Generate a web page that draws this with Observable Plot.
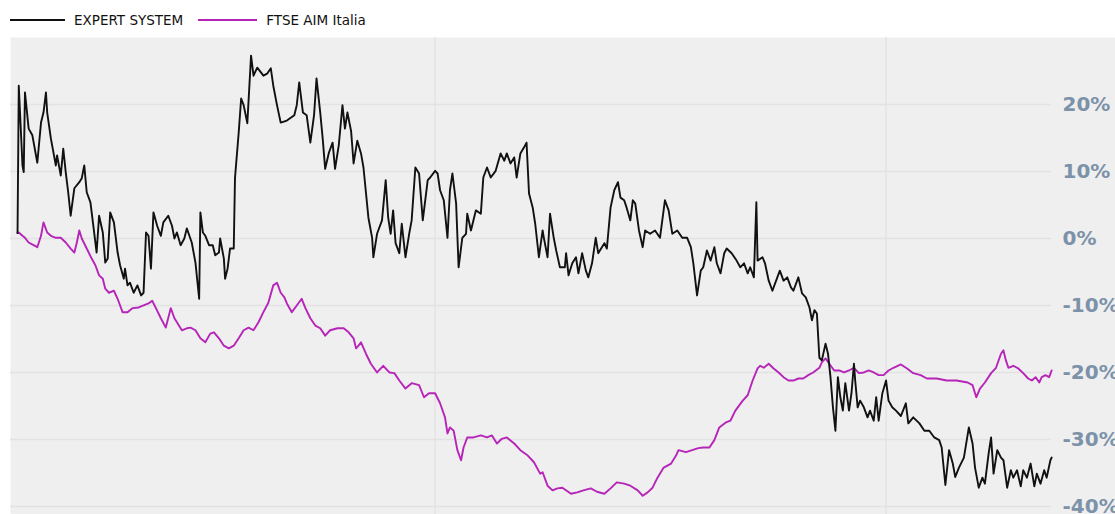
<!DOCTYPE html>
<html>
<head>
<meta charset="utf-8">
<script src="https://cdn.jsdelivr.net/npm/d3@7"></script>
<script src="https://cdn.jsdelivr.net/npm/@observablehq/plot@0.6"></script>
<style>
  html, body { margin: 0; padding: 0; background: #ffffff; }
  #wrap { width: 1115px; overflow: hidden; }
  #legend { height: 37px; display: flex; align-items: center; font-family: "DejaVu Sans", Verdana, sans-serif; font-size: 13.5px; color: #111; box-sizing: border-box; padding-top: 3px; }
  .sw { display: inline-block; height: 0; border-top: 2px solid #000; }
  #chart svg { display: block; }
</style>
</head>
<body>
<div id="wrap">
  <div id="legend"></div>
  <div id="chart"></div>
</div>
<script>
// ---- data (day offset from start date, % change) ----
const startDate = "2017-01-28";
const gridDates = ["2018-01-01", "2019-01-01"];
const seriesNames = ["EXPERT SYSTEM", "FTSE AIM Italia"];
const seriesColors = ["#111111", "#b624b8"];
const yTicks = [20, 10, 0, -10, -20, -30, -40];
const yTickLabels = ["20%", "10%", "0%", "-10%", "-20%", "-30%", "-40%"];

const expertSystem = [
[0,0.8],[1,22.8],[4,10.9],[5,9.9],[6,21.8],[9,16.4],[12,15.4],[16,11.3],[19,17.3],[21,18.8],
[23,21.8],[24,18.8],[27,14.9],[31,10.9],[32,12.4],[35,9.4],[37,13.4],[39,9.9],[41,6.9],[43,3.4],
[46,7.5],[50,8.4],[52,9.0],[54,10.9],[56,6.9],[59,5.4],[62,0.9],[64,-2.1],[66,3.4],[69,0.9],
[71,-3.6],[73,-3.0],[75,3.9],[78,2.4],[81,-2.1],[83,-4.0],[86,-6.0],[87,-4.5],[89,-7.0],[91,-6.6],
[94,-8.1],[97,-7.0],[100,-8.5],[102,-8.1],[104,0.9],[106,0.4],[108,-4.5],[110,3.9],[113,1.9],[116,0.4],
[118,2.4],[122,3.4],[125,1.9],[127,0],[129,0.9],[132,-1.0],[135,0],[137,1.5],[141,-0.6],[144,-3.6],
[147,-9.0],[148,3.9],[150,0.9],[152,0.4],[155,-1.0],[158,-1.0],[160,-2.5],[163,-2.1],[164,0],[167,-3.0],
[168,-6.0],[170,-4.5],[172,-1.5],[175,-1.5],[176,9.0],[179,15.8],[181,20.9],[183,19.9],[186,17.2],[189,27.3],
[191,24.3],[194,25.5],[197,24.8],[199,24.3],[202,24.6],[205,25.4],[207,22.8],[210,19.9],[213,17.3],[218,17.6],
[224,18.4],[226,19.9],[228,23.3],[231,18.8],[234,18.4],[237,14.3],[240,18.4],[242,23.9],[245,18.8],[247,14.9],
[249,10.4],[252,12.8],[255,14.3],[257,10.4],[260,13.9],[263,19.9],[265,16.4],[267,18.8],[270,16.0],[272,11.2],
[275,14.6],[278,12.7],[280,10.6],[284,3.1],[287,0.1],[288,-2.8],[291,0.7],[295,2.7],[298,8.7],[300,3.1],
[302,0.7],[304,4.2],[306,-0.7],[309,-2.2],[311,2.2],[314,-2.8],[317,0.7],[319,2.7],[322,10.6],[325,9.7],
[328,2.7],[332,8.7],[334,9.1],[338,10.1],[340,9.7],[342,7.2],[345,5.7],[348,0.1],[350,7.2],[352,9.7],
[355,5.2],[357,-4.3],[360,0.1],[363,0.7],[364,3.7],[367,1.2],[371,4.2],[375,3.7],[377,9.1],[380,10.6],
[383,9.1],[387,10.1],[391,12.7],[394,11.6],[396,12.7],[399,11.2],[402,12.1],[404,9.1],[407,12.7],[410,13.6],
[412,14.3],[414,6.7],[417,4.6],[419,2.2],[422,-2.8],[425,1.2],[426,0.1],[429,-2.8],[431,3.7],[434,0.1],
[436,-1.8],[439,-4.3],[443,-4.3],[444,-2.2],[446,-5.5],[449,-3.7],[452,-2.8],[454,-5.2],[457,-2.2],[460,-4.8],
[462,-5.8],[465,-3.7],[468,0.1],[470,-2.2],[475,-0.7],[477,-1.5],[480,4.6],[483,7.2],[486,8.4],[488,6.1],
[491,5.7],[493,4.6],[496,2.7],[498,5.7],[500,5.2],[503,1.2],[506,-1.3],[508,1.2],[512,0.7],[516,1.2],
[520,0.1],[524,5.7],[527,4.2],[530,0.7],[534,1.2],[538,0.1],[542,0.1],[545,-1.3],[547,-3.7],[550,-8.5],
[553,-4.8],[555,-4.3],[558,-1.8],[561,-3.3],[564,-1.3],[566,-3.7],[569,-5.2],[572,-2.2],[574,-1.5],[578,-2.2],
[582,-3.3],[585,-4.3],[588,-3.7],[591,-5.2],[593,-4.3],[596,-5.8],[598,5.4],[599,-3.3],[603,-2.8],[605,-3.7],
[608,-6.3],[611,-7.8],[614,-6.3],[617,-4.8],[620,-6.3],[623,-5.8],[626,-7.3],[628,-7.8],[632,-5.8],[635,-8.2],
[638,-8.8],[641,-10.3],[643,-12.2],[645,-10.7],[647,-11.2],[649,-17.8],[651,-18.2],[654,-15.7],[656,-17.2],[658,-20.7],
[660,-25.2],[662,-28.7],[664,-20.7],[666,-23.7],[668,-25.7],[670,-21.6],[673,-25.7],[675,-23.1],[677,-18.7],[678,-21.2],
[680,-25.2],[682,-24.2],[685,-25.2],[688,-26.7],[690,-25.7],[693,-27.2],[695,-23.7],[697,-27.2],[700,-23.1],[703,-21.2],
[705,-24.2],[708,-25.2],[711,-25.7],[715,-26.5],[719,-24.6],[721,-27.6],[725,-26.7],[730,-27.6],[734,-28.7],[738,-28.7],
[742,-29.7],[746,-30.1],[748,-31.2],[751,-36.8],[754,-31.6],[757,-33.6],[759,-35.6],[762,-34.2],[766,-32.7],[770,-28.2],
[773,-30.6],[775,-34.2],[778,-37.2],[781,-35.7],[783,-36.6],[786,-32.1],[788,-29.7],[790,-35.1],[793,-31.6],[796,-32.7],
[798,-33.1],[801,-37.2],[804,-34.6],[806,-35.7],[809,-34.6],[812,-37.0],[814,-34.6],[817,-35.7],[820,-33.6],[823,-37.0],
[825,-35.1],[828,-36.6],[831,-34.6],[833,-35.7],[836,-33.1],[837,-32.7]
];

const ftseAimItalia = [
[0,0.8],[1,0.9],[4,0.4],[6,0.1],[9,-0.6],[13,-1.0],[16,-1.3],[19,0.4],[21,2.4],[24,0.9],
[27,0.4],[31,0.1],[35,0.1],[39,-0.6],[43,-1.5],[46,-2.1],[48,-0.6],[50,1.2],[52,0],[56,-1.5],
[60,-3.0],[63,-4.0],[66,-5.5],[69,-6.0],[71,-7.5],[74,-8.1],[78,-7.8],[81,-9.0],[85,-11.0],[89,-11.0],
[93,-10.4],[98,-10.3],[102,-10.0],[106,-9.7],[109,-9.3],[112,-10.4],[116,-11.9],[120,-13.3],[124,-10.4],[127,-11.9],
[129,-12.5],[133,-13.7],[137,-13.4],[140,-13.3],[144,-13.7],[148,-14.9],[152,-15.5],[156,-14.2],[159,-14.0],[163,-14.9],
[167,-16.0],[171,-16.4],[175,-16.0],[179,-14.9],[183,-13.7],[187,-13.3],[191,-13.7],[195,-12.5],[199,-11.0],[203,-9.6],
[207,-7.0],[210,-6.6],[213,-8.1],[216,-8.8],[218,-9.7],[222,-11.0],[226,-10.0],[230,-9.0],[233,-10.4],[237,-11.9],
[241,-13.0],[245,-13.4],[249,-14.5],[253,-13.7],[259,-13.4],[264,-13.4],[268,-14.0],[272,-14.9],[274,-16.4],[276,-16.0],
[278,-15.5],[282,-17.2],[286,-18.7],[291,-20.0],[296,-19.0],[301,-20.0],[305,-20.1],[309,-21.2],[314,-22.4],[319,-21.6],
[325,-21.9],[329,-23.7],[333,-23.1],[338,-23.1],[342,-24.6],[346,-26.7],[348,-29.1],[350,-28.2],[353,-28.7],[356,-31.6],
[359,-33.1],[361,-31.2],[364,-29.7],[369,-29.7],[375,-29.4],[380,-29.7],[384,-29.4],[388,-30.6],[392,-29.9],[396,-29.7],
[402,-30.6],[407,-31.6],[413,-32.4],[418,-33.4],[423,-35.1],[425,-34.9],[429,-36.9],[433,-37.6],[437,-37.3],[441,-37.2],
[448,-38.1],[453,-37.9],[458,-37.6],[464,-37.3],[469,-37.8],[475,-38.1],[480,-37.3],[485,-36.4],[491,-36.6],[496,-36.9],
[502,-37.6],[506,-38.4],[510,-37.9],[514,-37.2],[518,-35.7],[523,-34.2],[529,-33.6],[533,-32.4],[535,-31.6],[541,-31.9],
[546,-31.6],[551,-31.3],[555,-31.2],[560,-31.2],[564,-30.1],[568,-28.2],[573,-27.5],[577,-27.2],[581,-25.7],[587,-24.2],
[591,-23.4],[595,-21.2],[599,-19.4],[601,-19.0],[604,-19.3],[608,-18.7],[612,-19.4],[616,-20.0],[620,-20.7],[624,-21.2],
[628,-21.2],[632,-20.9],[636,-20.9],[640,-20.4],[644,-20.0],[649,-19.3],[651,-18.5],[654,-17.9],[657,-18.7],[661,-19.7],
[665,-19.7],[669,-20.0],[673,-19.7],[677,-19.3],[681,-20.1],[685,-20.0],[689,-19.7],[693,-20.0],[697,-20.4],[701,-20.4],
[705,-19.7],[709,-19.3],[715,-18.8],[720,-19.4],[725,-20.1],[731,-20.4],[736,-20.9],[744,-20.9],[752,-21.2],[760,-21.2],
[769,-21.5],[773,-21.9],[776,-23.7],[779,-22.4],[783,-21.5],[788,-20.1],[792,-19.3],[796,-17.2],[798,-16.7],[800,-18.2],
[802,-19.3],[806,-19.0],[810,-19.4],[814,-20.1],[818,-20.9],[821,-21.2],[824,-20.7],[827,-21.5],[829,-20.7],[832,-20.4],
[835,-20.7],[837,-19.7]
];

// ---- helpers ----
const t0 = new Date(startDate + "T00:00:00Z");
const dayMs = 864e5;
const toDate = d => new Date(+t0 + d * dayMs);
const xDomain = [toDate(-5.7), toDate(888.7)];
const lastDate = toDate(d3.max(ftseAimItalia, d => d[0]));

// ---- legend ----
const legend = document.getElementById("legend");
const swWidths = [55, 59];
seriesNames.forEach((name, i) => {
  const sw = document.createElement("span");
  sw.className = "sw";
  sw.style.width = swWidths[i] + "px";
  sw.style.borderTopColor = seriesColors[i];
  sw.style.marginLeft = (i === 0 ? 10 : 15) + "px";
  sw.style.marginRight = "9px";
  const tx = document.createElement("span");
  tx.textContent = name;
  legend.appendChild(sw);
  legend.appendChild(tx);
});

// ---- chart ----
const chart = Plot.plot({
  width: 1115,
  height: 477,
  marginLeft: 10,
  marginRight: 0,
  marginTop: 0,
  marginBottom: 0,
  style: { background: "transparent", overflow: "hidden" },
  x: { type: "utc", domain: xDomain, axis: null },
  y: { domain: [-41.2, 30], axis: null },
  marks: [
    Plot.frame({ fill: "#efefef", stroke: null }),
    Plot.ruleX(gridDates, { x: d => new Date(d + "T00:00:00Z"), stroke: "#e4e4e4", strokeWidth: 1.5 }),
    Plot.ruleY(yTicks, { y: d => d, x1: xDomain[0], x2: lastDate, stroke: "#e2e2e2", strokeWidth: 1.5 }),
    Plot.line(ftseAimItalia, { x: d => toDate(d[0]), y: d => d[1], stroke: seriesColors[1], strokeWidth: 1.9, curve: "linear" }),
    Plot.line(expertSystem, { x: d => toDate(d[0]), y: d => d[1], stroke: seriesColors[0], strokeWidth: 1.9, curve: "linear" }),
    Plot.text(yTicks, {
      y: d => d,
      text: yTickLabels,
      frameAnchor: "right",
      textAnchor: "start",
      dx: -53,
      fill: "#7c92a9",
      fontSize: 20,
      fontWeight: "bold",
      fontFamily: "DejaVu Sans, Verdana, sans-serif"
    })
  ]
});
document.getElementById("chart").appendChild(chart);
</script>
</body>
</html>
